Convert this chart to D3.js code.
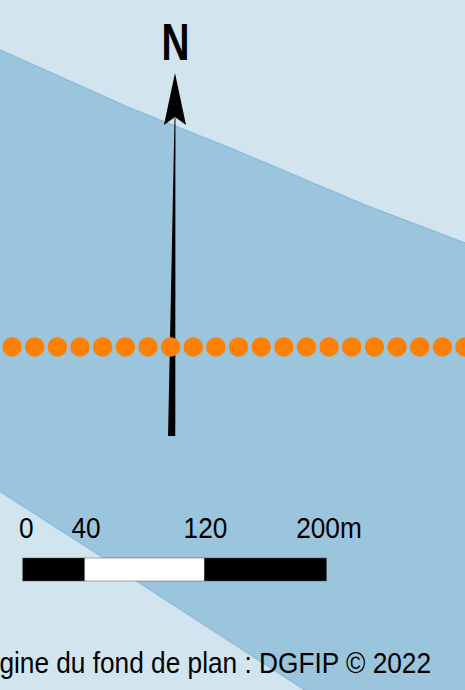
<!DOCTYPE html>
<html>
<head>
<meta charset="utf-8">
<script src="https://cdn.jsdelivr.net/npm/d3@7"></script>
<style>
  html, body { margin: 0; padding: 0; background: #d2e5ef; overflow: hidden; }
  svg { display: block; }
  text { font-family: "Liberation Sans", Arial, sans-serif; fill: #000; }
</style>
</head>
<body>
<svg id="map" width="465" height="690"></svg>
<script>
// map values, in metres from the top left corner of the plan
const mapSize = [308, 457];
const zoneUpperEdge = [[0, 33], [86, 71.5], [152.3, 98], [241.7, 135.8], [308, 161]];
const zoneLowerEdge = [[202, 457], [91.4, 385.4], [67.4, 368.7], [0, 325.5]];
const zoneCorner = [[308, 457]];
const pointsX = [8, 23, 38, 53, 68, 83, 98, 113, 128, 143, 158, 173, 188, 203, 218, 233, 248, 263, 278, 293, 308];
const pointsY = 229.8;
const arrowHead = [[115.9, 48.3], [123.2, 82.8], [115.9, 77.5], [108.6, 82.8]];
const arrowShaft = [[115.6, 78], [116.2, 78], [116.1, 288.7], [111.3, 288.7]];

// scale bar
const barTicks = [0, 40, 120, 200];
const barLabels = ['0', '40', '120', '200m'];
const barFills = ['#000', '#fff', '#000'];

const northLabel = 'N';
const sourceLabel = 'Origine du fond de plan : DGFIP © 2022';

const svg = d3.select('#map');
const x = d3.scaleLinear().domain([0, mapSize[0]]).range([0, 465]);
const y = d3.scaleLinear().domain([0, mapSize[1]]).range([0, 690]);
const barX = d3.scaleLinear().domain(barTicks).range([22.7, 84.7, 204.3, 326.5]);
const line = d3.line().x(d => x(d[0])).y(d => y(d[1]));

// zone, the border only runs along the two long edges
svg.append('path')
  .attr('d', line(zoneUpperEdge.concat(zoneCorner, zoneLowerEdge)) + 'Z')
  .attr('fill', '#9ac5dc');
[zoneUpperEdge, zoneLowerEdge].forEach(edge => {
  svg.append('path')
    .attr('d', line(edge))
    .attr('fill', 'none')
    .attr('stroke', '#8dbedb')
    .attr('stroke-width', 1.5);
});

// north arrow
svg.append('path').attr('d', line(arrowShaft) + 'Z').attr('fill', '#000');
svg.append('path').attr('d', line(arrowHead) + 'Z').attr('fill', '#000');
svg.append('text')
  .attr('transform', 'translate(175.5,60) scale(0.76,1)')
  .attr('text-anchor', 'middle')
  .attr('font-size', 51)
  .attr('font-weight', 'bold')
  .text(northLabel);

// points
svg.selectAll('circle')
  .data(pointsX)
  .join('circle')
  .attr('cx', d => x(d))
  .attr('cy', y(pointsY))
  .attr('r', 9.7)
  .attr('fill', '#ff7f00');

// scale bar
svg.selectAll('rect')
  .data(barFills)
  .join('rect')
  .attr('x', (d, i) => barX(barTicks[i]))
  .attr('y', 558)
  .attr('width', (d, i) => barX(barTicks[i + 1]) - barX(barTicks[i]))
  .attr('height', 23)
  .attr('fill', d => d)
  .attr('stroke', '#555')
  .attr('stroke-width', 0.5);

const labelOffset = [3.5, 1.3, 1.2, 2.5];
svg.selectAll('text.bar')
  .data(barLabels)
  .join('text')
  .attr('class', 'bar')
  .attr('transform', (d, i) => `translate(${barX(barTicks[i]) + labelOffset[i]},538) scale(0.875,1)`)
  .attr('text-anchor', 'middle')
  .attr('font-size', 30)
  .text(d => d);

// source, cut by the left edge as on the plan
svg.append('text')
  .attr('transform', 'translate(431,673) scale(0.875,1)')
  .attr('text-anchor', 'end')
  .attr('font-size', 30)
  .text(sourceLabel);
</script>
</body>
</html>
